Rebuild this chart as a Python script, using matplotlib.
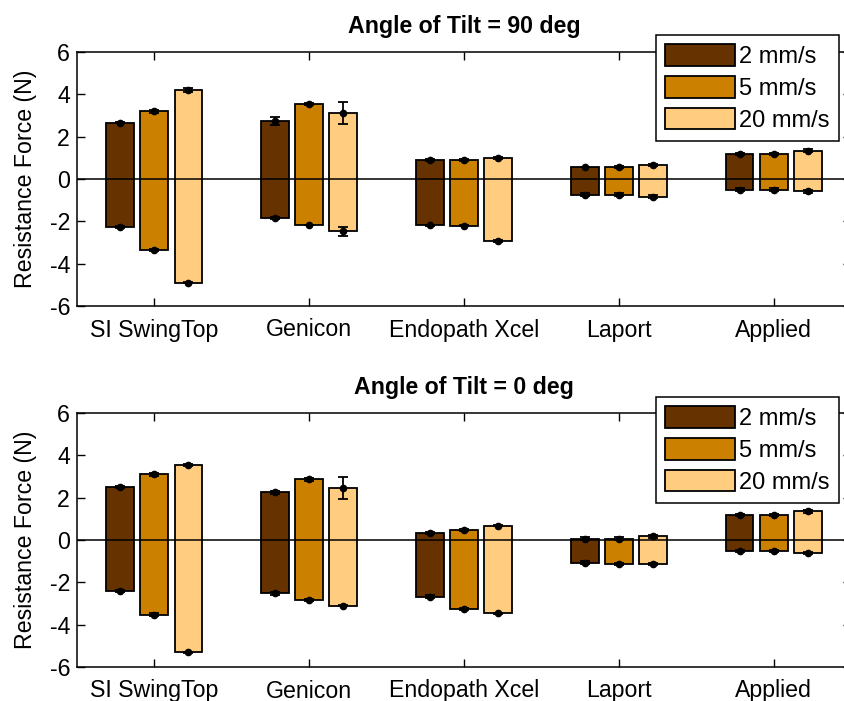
import matplotlib.pyplot as plt
import numpy as np

# Data
devices = ['SI SwingTop', 'Genicon', 'Endopath Xcel', 'Laport', 'Applied']
speeds = ['2 mm/s', '5 mm/s', '20 mm/s']
colors = ['#663300', '#CC8000', '#FFCC80']

# Angle of tilt = 90 deg: max (top) and min (bottom) resistance force, N
top90 = [[2.65, 2.75, 0.90, 0.57, 1.17],
         [3.20, 3.55, 0.90, 0.56, 1.17],
         [4.22, 3.12, 1.00, 0.67, 1.34]]
bot90 = [[-2.27, -1.85, -2.18, -0.74, -0.50],
         [-3.36, -2.17, -2.20, -0.74, -0.50],
         [-4.90, -2.48, -2.93, -0.83, -0.58]]
toperr90 = [[0.02, 0.18, 0.05, 0.02, 0.05],
            [0.06, 0.06, 0.05, 0.06, 0.05],
            [0.10, 0.52, 0.05, 0.06, 0.06]]
boterr90 = [[0.06, 0.06, 0.02, 0.06, 0.06],
            [0.06, 0.02, 0.02, 0.06, 0.06],
            [0.03, 0.22, 0.06, 0.06, 0.06]]

# Angle of tilt = 0 deg
top0 = [[2.50, 2.25, 0.33, 0.06, 1.18],
        [3.10, 2.86, 0.49, 0.06, 1.18],
        [3.56, 2.45, 0.68, 0.17, 1.35]]
bot0 = [[-2.42, -2.52, -2.68, -1.07, -0.52],
        [-3.52, -2.84, -3.27, -1.14, -0.52],
        [-5.31, -3.10, -3.46, -1.14, -0.61]]
toperr0 = [[0.06, 0.06, 0.05, 0.06, 0.05],
           [0.06, 0.06, 0.05, 0.06, 0.05],
           [0.05, 0.52, 0.02, 0.06, 0.06]]
boterr0 = [[0.06, 0.06, 0.06, 0.06, 0.06],
           [0.06, 0.06, 0.06, 0.06, 0.06],
           [0.02, 0.04, 0.02, 0.06, 0.06]]

plt.rcParams['font.family'] = ['Liberation Sans', 'DejaVu Sans']
plt.rcParams['font.size'] = 16.7
plt.rcParams['axes.unicode_minus'] = False

fig = plt.figure(figsize=(8.44, 7.01), dpi=100)
W, H = 844.0, 701.0


def panel(rect, tops, bots, toperrs, boterrs, title):
    ax = fig.add_axes(rect)
    x = np.arange(1, len(devices) + 1)
    offsets = [-0.22, 0.0, 0.22]
    bar_width = 0.18
    for i in range(3):
        t = np.array(tops[i])
        b = np.array(bots[i])
        ax.bar(x + offsets[i], t - b, bar_width, bottom=b, color=colors[i],
               edgecolor='black', linewidth=1.3, label=speeds[i], zorder=2)
        for y, e in [(t, toperrs[i]), (b, boterrs[i])]:
            ax.errorbar(x + offsets[i], y, yerr=e, fmt='o', color='black', ms=4.5,
                        elinewidth=1.3, capsize=3.5, capthick=1.3, zorder=3)
    ax.axhline(0, color='black', linewidth=1.1, zorder=4)
    ax.set_xlim(0.5, 5.5)
    ax.set_ylim(-6, 6)
    ax.set_yticks([-6, -4, -2, 0, 2, 4, 6])
    ax.set_xticks(x)
    ax.set_xticklabels(devices)
    ax.tick_params(direction='in', length=6, width=1, top=True, right=True)
    ax.tick_params(axis='x', pad=9)
    ax.tick_params(axis='y', pad=5)
    for s in ax.spines.values():
        s.set_linewidth(1.1)
    ax.set_ylabel('Resistance Force (N)', labelpad=9)
    ax.set_title(title, fontweight='bold', fontsize=16.7, pad=14)
    return ax


ax1 = panel([77 / W, 1 - 306 / H, 774 / W, 254 / H], top90, bot90, toperr90, boterr90,
            'Angle of Tilt = 90 deg')
ax2 = panel([77 / W, 1 - 667 / H, 774 / W, 254 / H], top0, bot0, toperr0, boterr0,
            'Angle of Tilt = 0 deg')

for ax, ytop in [(ax1, 35), (ax2, 397)]:
    leg = ax.legend(loc='upper left', bbox_to_anchor=(656 / W, 1 - ytop / H),
                    bbox_transform=fig.transFigure, fancybox=False, framealpha=1,
                    edgecolor='black', handlelength=2.95, handleheight=1.05,
                    labelspacing=0.32, handletextpad=0.15, borderpad=0.4,
                    borderaxespad=0, fontsize=17)
    leg.get_frame().set_linewidth(1.1)
    leg.set_zorder(10)

fig.savefig('out.png', dpi=100)
